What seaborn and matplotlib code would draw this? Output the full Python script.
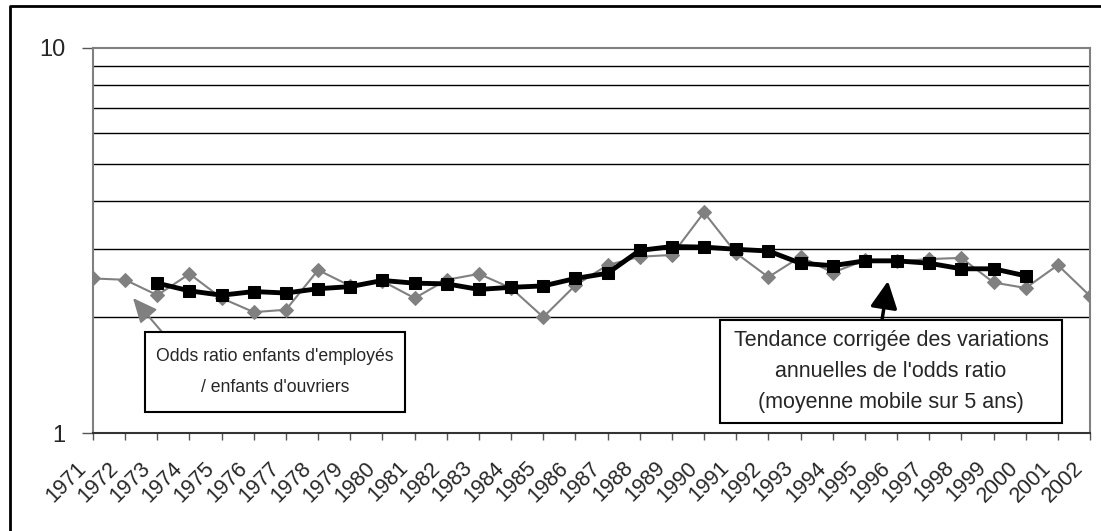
import numpy as np
import pandas as pd
import matplotlib
matplotlib.use('Agg')
import matplotlib.pyplot as plt
import matplotlib.ticker as mticker
import matplotlib.transforms as mtransforms
from matplotlib.lines import Line2D
from matplotlib.patches import Rectangle
import seaborn as sns

# Données
annees = list(range(1971, 2003))
odds_ratio = [2.52, 2.50, 2.28, 2.59, 2.24, 2.06, 2.09, 2.65, 2.41, 2.48,
              2.24, 2.50, 2.59, 2.38, 2.00, 2.42, 2.73, 2.87, 2.90, 3.74,
              2.93, 2.54, 2.87, 2.61, 2.81, 2.79, 2.83, 2.85, 2.46, 2.38,
              2.73, 2.27]
# moyenne mobile sur 5 ans (1973 - 2000)
annees_mm = list(range(1973, 2001))
moyenne_mobile = [2.45, 2.34, 2.28, 2.33, 2.31, 2.37, 2.40, 2.49, 2.45, 2.44,
                  2.36, 2.39, 2.41, 2.52, 2.60, 2.98, 3.05, 3.04, 3.00, 2.97,
                  2.76, 2.72, 2.80, 2.80, 2.76, 2.67, 2.67, 2.56]

df = pd.DataFrame({'annee': annees, 'odds': odds_ratio})
df_mm = pd.DataFrame({'annee': annees_mm, 'mm': moyenne_mobile})

sns.set_theme(style='white')
plt.rcParams['font.family'] = ['Liberation Sans', 'DejaVu Sans']

fig = plt.figure(figsize=(11.01, 5.31), dpi=100)
ax = fig.add_axes([93 / 1101, 1 - 433 / 531, 997 / 1101, 385 / 531])

sns.lineplot(data=df, x='annee', y='odds', ax=ax, color='#808080', lw=1.5,
             marker='D', markersize=7, markeredgecolor='#808080')
sns.lineplot(data=df_mm, x='annee', y='mm', ax=ax, color='black', lw=3.5,
             marker='s', markersize=8, markeredgecolor='black')

ax.set_yscale('log')
ax.set_ylim(1, 10)
ax.set_xlim(1971, 2002)
ax.yaxis.set_major_locator(mticker.FixedLocator([1, 10]))
ax.yaxis.set_major_formatter(mticker.FixedFormatter(['1', '10']))
ax.yaxis.set_minor_locator(mticker.FixedLocator(np.arange(2, 10)))
ax.yaxis.set_minor_formatter(mticker.NullFormatter())
ax.yaxis.grid(True, which='minor', color='black', lw=1)
ax.tick_params(axis='y', which='minor', length=0)
ax.tick_params(axis='y', which='major', length=8, width=1, color='#555555',
               labelsize=17, pad=12, left=True)

ax.set_xticks(annees)
ax.set_xticklabels([str(a) for a in annees], rotation=45, ha='right',
                   va='center', rotation_mode='anchor')
ax.tick_params(axis='x', length=5, width=1, color='#555555', labelsize=15.5,
               pad=18, bottom=True)
decalage = mtransforms.ScaledTranslation(-10 / 100, 0, fig.dpi_scale_trans)
for lab in ax.get_xticklabels():
    lab.set_transform(lab.get_transform() + decalage)
ax.set_xlabel('')
ax.set_ylabel('')

for s in ['left', 'top', 'right']:
    ax.spines[s].set_color('#808080')
    ax.spines[s].set_linewidth(1.5)
ax.spines['bottom'].set_color('#333333')
ax.spines['bottom'].set_linewidth(1.5)

# Encadrés et flèches
ax.add_patch(Rectangle((0.0522, 0.0545), 0.2608, 0.2078, transform=ax.transAxes,
                       fc='white', ec='black', lw=1.5, zorder=5))
ax.text(0.1826, 0.1584, "Odds ratio enfants d'employés\n/ enfants d'ouvriers",
        transform=ax.transAxes, ha='center', va='center', fontsize=12.7,
        linespacing=2.1, zorder=6)
ax.annotate('', xy=(0.0401, 0.3506), xycoords='axes fraction',
            xytext=(0.0692, 0.2623), textcoords='axes fraction',
            arrowprops=dict(arrowstyle='-|>,head_length=1.0,head_width=0.45',
                            mutation_scale=15, color='#808080', lw=1.5,
                            shrinkA=0, shrinkB=0))

ax.add_patch(Rectangle((0.6289, 0.026), 0.3430, 0.2675, transform=ax.transAxes,
                       fc='white', ec='black', lw=1.5, zorder=5))
ax.text(0.8004, 0.1597,
        "Tendance corrigée des variations\nannuelles de l'odds ratio\n(moyenne mobile sur 5 ans)",
        transform=ax.transAxes, ha='center', va='center', fontsize=15.5,
        linespacing=1.6, zorder=6)
ax.annotate('', xy=(0.7974, 0.3948), xycoords='axes fraction',
            xytext=(0.7914, 0.2935), textcoords='axes fraction',
            arrowprops=dict(arrowstyle='-|>,head_length=1.1,head_width=0.55',
                            mutation_scale=15, color='black', lw=2.5,
                            shrinkA=0, shrinkB=0))

# Cadre extérieur (seuls les bords gauche et haut sont visibles)
fig.lines.append(Line2D([10 / 1101, 10 / 1101, 1], [0, 1 - 6 / 531, 1 - 6 / 531],
                        transform=fig.transFigure, color='black', lw=2))

fig.savefig('out.png', dpi=100)
